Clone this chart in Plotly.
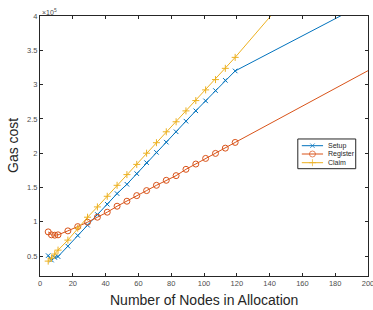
import plotly.graph_objects as go

nodes = [5, 7, 9, 11, 17, 23, 29, 35, 41, 47, 53, 59, 65, 71, 77, 83, 89, 95, 101, 107, 113, 119]
setup = [0.507, 0.442, 0.48, 0.493, 0.645, 0.801, 0.95, 1.106, 1.256, 1.411, 1.547, 1.702,
         1.862, 2.012, 2.161, 2.312, 2.467, 2.618, 2.763, 2.913, 3.062, 3.199]
register = [0.853, 0.81, 0.805, 0.81, 0.868, 0.93, 0.994, 1.067, 1.14, 1.227, 1.30, 1.382,
            1.455, 1.532, 1.605, 1.673, 1.765, 1.842, 1.924, 1.997, 2.074, 2.157]
claim = [0.427, 0.47, 0.53, 0.587, 0.733, 0.907, 1.067, 1.217, 1.372, 1.532, 1.688, 1.837,
         2.0, 2.153, 2.312, 2.458, 2.617, 2.767, 2.923, 3.073, 3.237, 3.397]

# extrapolated tails (no markers)
ext_x = [119, 200]
setup_ext = [3.199, 4.21]
register_ext = [2.157, 3.203]
claim_ext = [3.397, 5.65]

series_names = ["Setup", "Register", "Claim"]

scale = 1e5
x_ticks = [0, 20, 40, 60, 80, 100, 120, 140, 160, 180, 200]
y_tick_vals = [0.5, 1, 1.5, 2, 2.5, 3, 3.5, 4]
y_tick_text = ["0.5", "1", "1.5", "2", "2.5", "3", "3.5", "4"]

BLUE = "#0072BD"
RED = "#D95319"
YEL = "#EDB120"
AX = "#262626"
TICK = "#4d4d4d"

fig = go.Figure()

series = [
    (series_names[0], setup, setup_ext, BLUE, "x-thin", 4.5),
    (series_names[1], register, register_ext, RED, "circle-open", 6),
    (series_names[2], claim, claim_ext, YEL, "cross-thin", 5),
]
for name, vals, ext, col, sym, sz in series:
    fig.add_trace(go.Scatter(
        x=ext_x, y=[v * scale for v in ext], mode="lines",
        line=dict(color=col, width=1), showlegend=False, hoverinfo="skip"))
for name, vals, ext, col, sym, sz in series:
    fig.add_trace(go.Scatter(
        x=nodes, y=[v * scale for v in vals], mode="lines+markers", name=name,
        line=dict(color=col, width=1), showlegend=False,
        marker=dict(symbol=sym, size=sz, color=col, line=dict(color=col, width=1))))

# ---- compact MATLAB-style legend drawn on an overlay axis ----
leg_x0, leg_x1 = 0.786, 0.9626
leg_y0, leg_y1 = 0.4127, 0.527
line_x = [0.7982, 0.8306, 0.8630]
text_x = 0.872
row_y = [0.5012, 0.4692, 0.4358]
for (name, vals, ext, col, sym, sz), ry in zip(series, row_y):
    fig.add_trace(go.Scatter(
        x=line_x, y=[ry] * 3, xaxis="x2", yaxis="y2", mode="lines+markers",
        line=dict(color=col, width=1), showlegend=False, hoverinfo="skip",
        marker=dict(symbol=sym, size=[0, sz, 0], color=col, line=dict(color=col, width=1))))

annotations = [
    dict(text="×10<sup>5</sup>", xref="paper", yref="paper", x=0, y=1,
         xanchor="left", yanchor="bottom", showarrow=False,
         font=dict(size=7, color=TICK), yshift=-2),
    dict(text="Number of Nodes in Allocation", xref="paper", yref="paper", x=0.5, y=0,
         xanchor="center", yanchor="top", showarrow=False, yshift=-14,
         font=dict(size=14, color=AX)),
    dict(text="Gas cost", xref="paper", yref="paper", x=0, y=0.5, textangle=-90,
         xanchor="right", yanchor="middle", showarrow=False, xshift=-17,
         font=dict(size=14, color=AX)),
]
for name, ry in zip(series_names, row_y):
    annotations.append(dict(text=name, xref="paper", yref="paper", x=text_x, y=ry,
                            xanchor="left", yanchor="middle", showarrow=False,
                            font=dict(size=7, color=AX)))

fig.update_layout(
    width=373, height=310,
    margin=dict(l=40, r=5, t=16, b=34),
    paper_bgcolor="white", plot_bgcolor="white",
    font=dict(family="Liberation Sans, Arial, sans-serif", color=AX),
    showlegend=False,
    hovermode=False,
    xaxis=dict(range=[0, 200], tickvals=x_ticks, ticks="inside", ticklen=3,
               showline=True, linecolor=AX, linewidth=1, mirror="allticks",
               showgrid=False, zeroline=False, tickcolor=AX, automargin=False,
               ticklabeloverflow="allow",
               tickfont=dict(size=7.5, color=TICK)),
    yaxis=dict(range=[0.21 * scale, 4 * scale], tickvals=[v * scale for v in y_tick_vals],
               ticktext=y_tick_text, ticks="inside", ticklen=3,
               showline=True, linecolor=AX, linewidth=1, mirror="allticks",
               showgrid=False, zeroline=False, tickcolor=AX, automargin=False,
               tickfont=dict(size=7.5, color=TICK)),
    xaxis2=dict(overlaying="x", range=[0, 1], visible=False, fixedrange=True),
    yaxis2=dict(overlaying="y", range=[0, 1], visible=False, fixedrange=True),
    shapes=[dict(type="rect", xref="paper", yref="paper", x0=leg_x0, x1=leg_x1,
                 y0=leg_y0, y1=leg_y1, line=dict(color=AX, width=1),
                 fillcolor="white", layer="below")],
    annotations=annotations,
)

fig.write_html("out.html", config={"displayModeBar": False},
               post_script="document.body.style.margin='0';document.body.style.overflow='hidden';")
